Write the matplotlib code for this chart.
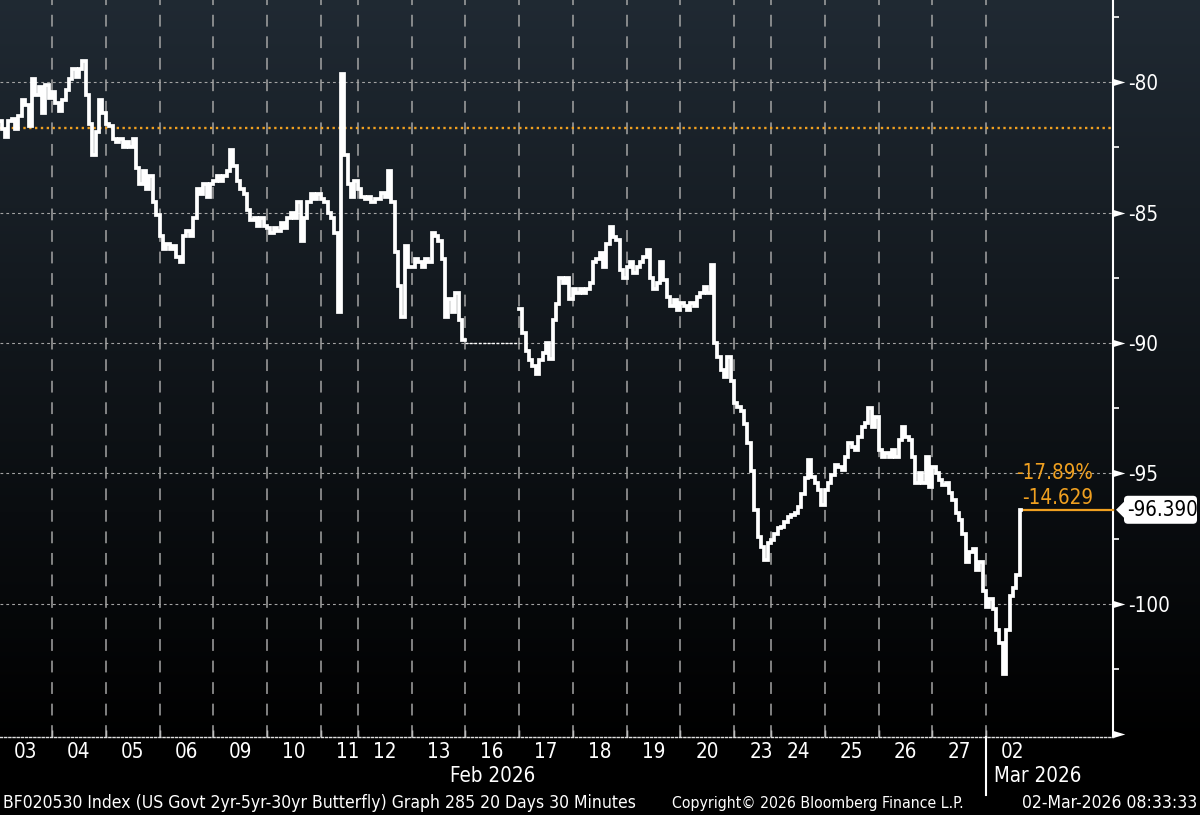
import os
import numpy as np
import matplotlib
matplotlib.use("Agg")
import matplotlib.pyplot as plt
from matplotlib import font_manager
from matplotlib.font_manager import FontProperties
from matplotlib.transforms import blended_transform_factory, IdentityTransform
from matplotlib.patches import Polygon, FancyBboxPatch
from matplotlib.path import Path

# ---------------- data ----------------
day_labels = ["03", "04", "05", "06", "09", "10", "11", "12", "13", "16",
              "17", "18", "19", "20", "23", "24", "25", "26", "27", "02"]
month_labels = ["Feb 2026", "Mar 2026"]
holiday_label = "16"

d03 = [-81.5, -81.8, -82.1, -81.5, -81.4, -81.8, -81.3, -80.7, -80.9, -81.7, -79.9, -80.5, -80.2, -81.2, -80.1, -80.6]
d04 = [-80.4, -80.8, -81.1, -80.7, -80.3, -79.9, -79.5, -79.8, -79.5, -79.2, -80.5, -81.6, -82.8, -81.9, -80.7, -81.2]
d05 = [-81.6, -81.7, -82.2, -82.3, -82.2, -82.5, -82.3, -82.5, -82.2, -83.3, -83.9, -83.4, -84.1, -83.6, -84.6, -85.1]
d06 = [-85.9, -86.4, -86.2, -86.4, -86.3, -86.7, -86.9, -85.9, -85.7, -85.9, -85.2, -84.1, -84.3, -83.9, -84.4, -83.9]
d09 = [-83.8, -83.6, -83.8, -83.6, -83.4, -82.6, -83.2, -83.8, -84.1, -84.3, -84.9, -85.3, -85.2, -85.5, -85.2, -85.5]
d10 = [-85.6, -85.8, -85.6, -85.7, -85.4, -85.6, -85.2, -85.0, -85.2, -84.6, -86.1, -85.2, -84.6, -84.3, -84.5, -84.3]
d11 = [-84.5, -84.6, -85.0, -85.2, -85.8, -88.8, -79.7, -82.8, -83.9, -84.4, -83.8]
d12 = [-84.1, -84.4, -84.5, -84.4, -84.6, -84.5, -84.5, -84.25, -84.4, -83.4, -84.6, -86.5, -87.8, -89.0, -86.3, -87.1]
d13 = [-87.1, -86.8, -86.9, -87.1, -86.8, -86.9, -85.8, -85.9, -86.1, -86.8, -89.0, -88.3, -88.8, -88.1, -89.1, -89.9]
d16 = [-90.0, -90.0, -90.0, -90.0, -90.0, -90.0, -90.0, -90.0, -90.0, -90.0, -90.0, -90.0, -90.0, -90.0, -90.0, -90.0]
d17 = [-88.7, -89.6, -90.3, -90.65, -90.9, -91.2, -90.65, -90.4, -90.0, -90.6, -89.1, -88.5, -87.5, -87.7, -87.5, -88.3]
d18 = [-87.95, -88.1, -87.95, -88.1, -87.95, -87.7, -86.9, -86.8, -86.55, -87.1, -86.2, -85.55, -85.95, -86.05, -87.2, -87.5]
d19 = [-87.1, -86.9, -87.3, -87.1, -86.9, -86.7, -86.45, -87.5, -87.95, -87.7, -86.9, -87.6, -88.25, -88.6, -88.35, -88.75]
d20 = [-88.45, -88.6, -88.75, -88.45, -88.6, -88.25, -88.1, -87.85, -88.1, -87.0, -90.0, -90.55, -91.05, -91.3, -90.55, -91.45]
d23 = [-92.3, -92.45, -92.6, -93.1, -93.85, -94.9, -96.4, -97.45, -97.8, -98.3, -97.65]
d24 = [-97.55, -97.3, -97.1, -97.05, -96.85, -96.65, -96.6, -96.5, -96.3, -95.8, -95.17, -94.5, -95.13, -95.36, -95.63, -96.2]
d25 = [-95.63, -95.36, -95.05, -94.67, -94.75, -94.87, -94.37, -93.83, -93.98, -94.1, -93.6, -93.22, -93.07, -92.5, -93.22, -92.84]
d26 = [-94.1, -94.37, -94.21, -94.37, -94.1, -94.37, -93.72, -93.22, -93.6, -93.72, -94.37, -95.36, -94.98, -95.36, -94.37, -95.52]
d27 = [-94.75, -94.98, -95.25, -95.45, -95.36, -95.75, -96.0, -96.5, -96.8, -97.3, -98.4, -98.0, -97.9, -98.7, -98.4, -99.5]
d02 = [-100.1, -99.8, -100.2, -101.0, -101.5, -102.7, -101.0, -99.7, -99.4, -98.9, -96.39]

day_values = [d03, d04, d05, d06, d09, d10, d11, d12, d13, d16,
              d17, d18, d19, d20, d23, d24, d25, d26, d27, d02]

ref_level = -81.761
last_value = -96.390
last_label = "-96.390"
change_abs = "-14.629"
change_pct = "-17.89%"

tick_values = [-80, -85, -90, -95, -100, -105]
tick_labels = ["-80", "-85", "-90", "-95", "-100", ""]
minor_values = [-77.5, -82.5, -87.5, -92.5, -97.5, -102.5]

footer_left = "BF020530 Index (US Govt 2yr-5yr-30yr Butterfly) Graph 285 20 Days 30 Minutes"
footer_mid = "Copyright\u00a9 2026 Bloomberg Finance L.P."
footer_right = "02-Mar-2026 08:33:33"

# ---------------- fonts ----------------
def find_narrow():
    prefs = ["LiberationSansNarrow-Regular", "DejaVuSansCondensed.", "OpenSans_Condensed-Regular",
             "OpenSansCondensed-Regular", "RobotoCondensed-Regular", "NotoSans-Condensed.",
             "NotoSansCondensed-Regular", "Roboto_Condensed-Regular"]
    files = [f.fname for f in font_manager.fontManager.ttflist]
    for p in prefs:
        for fn in files:
            if p.lower() in os.path.basename(fn).lower():
                return fn
    for fn in files:
        b = os.path.basename(fn).lower()
        if ("narrow" in b or "condensed" in b) and not any(k in b for k in ("bold", "italic", "oblique", "light", "semi", "extra", "black", "medium", "thin")):
            return fn
    return None

narrow = find_narrow()
FS = 14.8
FOOT = 12.6
FOOT_MID = 11.3
if narrow:
    def fp(size):
        return FontProperties(fname=narrow, size=size)
else:
    FS, FOOT, FOOT_MID = 13.5, 11.5, 10.5
    def fp(size):
        return FontProperties(family=["Liberation Sans", "DejaVu Sans"], size=size)

plt.rcParams['lines.scale_dashes'] = False

ORANGE = '#f0a020'
GRID = '#a4a4a4'

W, H = 1200, 815
fig = plt.figure(figsize=(W / 100, H / 100), dpi=100)
fig.patch.set_facecolor('black')

# gradient background (slate at top -> black at bottom)
bg = fig.add_axes([0, 0, 1, 1], zorder=0)
rows = np.arange(H)
frac = np.clip(1 - rows / 745.0, 0, 1)
top = np.array([0.125, 0.163, 0.200])
img = frac[:, None, None] * top[None, None, :]
bg.imshow(img, aspect='auto', extent=[0, 1, 0, 1], interpolation='bilinear')
bg.set_axis_off()

ax = fig.add_axes([0.0, 1 - 737 / H, 1113 / W, 737 / H], zorder=1)
ax.patch.set_alpha(0)

counts = [len(d) for d in day_values]
starts = np.concatenate([[0], np.cumsum(counts)[:-1]]).astype(int)
y_all = np.concatenate(day_values)
n = len(y_all)
x_all = np.arange(n)

hol = day_labels.index(holiday_label)
mask = np.zeros(n, bool)
mask[starts[hol]:starts[hol] + counts[hol]] = True
y_main = np.where(mask, np.nan, y_all)

x_right = x_all[-1] + 27.3
ax.set_xlim(0, x_right)
ax.set_ylim(-105.096, -76.858)

# grid
for s in starts[1:]:
    ax.axvline(s - 0.5, color=GRID, lw=1.1, ls=(0, (8.5, 7.0)), zorder=2)
for t in tick_values[:-1]:
    ax.axhline(t, color=GRID, lw=0.8, ls=(0, (2.0, 2.2)), zorder=2)
ax.axhline(ref_level, color=ORANGE, lw=1.7, ls=(0, (1.7, 2.5)), zorder=3)

# data
ax.plot(x_all, y_main, color='white', lw=2.7, drawstyle='steps-mid', zorder=5,
        solid_joinstyle='miter')
hs, hc = starts[hol], counts[hol]
ax.plot([hs - 0.5, hs + hc - 0.5], [d16[0], d16[-1]], color='white', lw=1.0,
        ls=(0, (2.0, 1.2)), zorder=5)
ax.plot([x_all[-1], x_right], [last_value, last_value], color=ORANGE, lw=1.6,
        zorder=4, clip_on=False)

# spines
ax.spines['top'].set_visible(False)
ax.spines['left'].set_visible(False)
ax.spines['right'].set_color('white')
ax.spines['right'].set_linewidth(1.5)
ax.spines['bottom'].set_color('#e0e0e0')
ax.spines['bottom'].set_linewidth(1.0)
ax.spines['bottom'].set_linestyle((0, (1.5, 1.5)))

# y axis
ax.yaxis.tick_right()
ax.set_yticks(tick_values)
ax.set_yticklabels(tick_labels)
for lbl in ax.get_yticklabels():
    lbl.set_fontproperties(fp(FS))
ax.set_yticks(minor_values, minor=True)
ax.tick_params(axis='y', which='major', length=0, pad=11, labelcolor='white')
ax.tick_params(axis='y', which='minor', length=4, width=1.2, color='white', direction='out')
trans_y = blended_transform_factory(ax.transAxes, ax.transData)
tri = Path([(0, -0.3), (1, 0), (0, 0.3), (0, -0.3)],
           [Path.MOVETO, Path.LINETO, Path.LINETO, Path.CLOSEPOLY])
ax.plot([1.0] * len(tick_values), tick_values, ls='none', marker=tri, ms=17,
        color='white', mew=0, transform=trans_y, clip_on=False, zorder=6)

# x axis
ax.set_xticks(starts[1:] - 0.5)
ax.set_xticklabels([])
ax.tick_params(axis='x', length=5, width=1, color='white', direction='in')
tr_x = blended_transform_factory(ax.transData, ax.transAxes)
full_day = max(counts)
for lab, s, c in zip(day_labels, starts, counts):
    ax.text(s - 0.5 + max(c, full_day) / 2, -15 / 737, lab, transform=tr_x,
            ha='center', va='center', color='white', fontproperties=fp(FS))
mar_start = starts[-1] - 0.5
ax.text(mar_start / 2, -39 / 737, month_labels[0], transform=tr_x,
        ha='center', va='center', color='white', fontproperties=fp(FS))
ax.annotate(month_labels[1], xy=(mar_start, -39 / 737), xycoords=tr_x,
            xytext=(5.5, 0), textcoords='offset points', ha='left', va='center',
            color='white', fontproperties=fp(FS))
ax.plot([mar_start, mar_start], [0.0, -58 / 737], transform=tr_x, color='white',
        lw=1.5, clip_on=False, zorder=6)

# change labels
ax.annotate(change_abs, xy=(1, last_value), xycoords=trans_y, xytext=(-14.4, 8.5),
            textcoords='offset points', ha='right', va='center', color=ORANGE,
            fontproperties=fp(FS))
ax.annotate(change_pct, xy=(1, last_value), xycoords=trans_y, xytext=(-14.4, 26.5),
            textcoords='offset points', ha='right', va='center', color=ORANGE,
            fontproperties=fp(FS))

# last value tag
py = ax.transData.transform((0, last_value))[1]
xs = ax.transAxes.transform((1, 0))[0]
box_left = xs + 11
box_right = W - 3
fig.add_artist(FancyBboxPatch((box_left, py - 14), box_right - box_left, 28,
                              boxstyle='round,pad=0,rounding_size=4',
                              facecolor='white', edgecolor='none',
                              transform=IdentityTransform(), zorder=7))
fig.add_artist(Polygon([(xs + 3, py), (box_left + 1, py + 9), (box_left + 1, py - 9)],
                       closed=True, facecolor='white', edgecolor='none',
                       transform=IdentityTransform(), zorder=7))
fig.text((box_left + box_right) / 2 + 2, py, last_label, transform=IdentityTransform(),
         ha='center', va='center', color='black', fontproperties=fp(FS), zorder=8)

# footer
fy = 1 - 803 / H
fig.text(3 / W, fy, footer_left, color='white', ha='left', va='center', fontproperties=fp(FOOT))
fig.text(672 / W, fy, footer_mid, color='white', ha='left', va='center', fontproperties=fp(FOOT_MID))
fig.text(1197 / W, fy, footer_right, color='white', ha='right', va='center', fontproperties=fp(FOOT))

fig.savefig('out.png', dpi=100, facecolor='black')
